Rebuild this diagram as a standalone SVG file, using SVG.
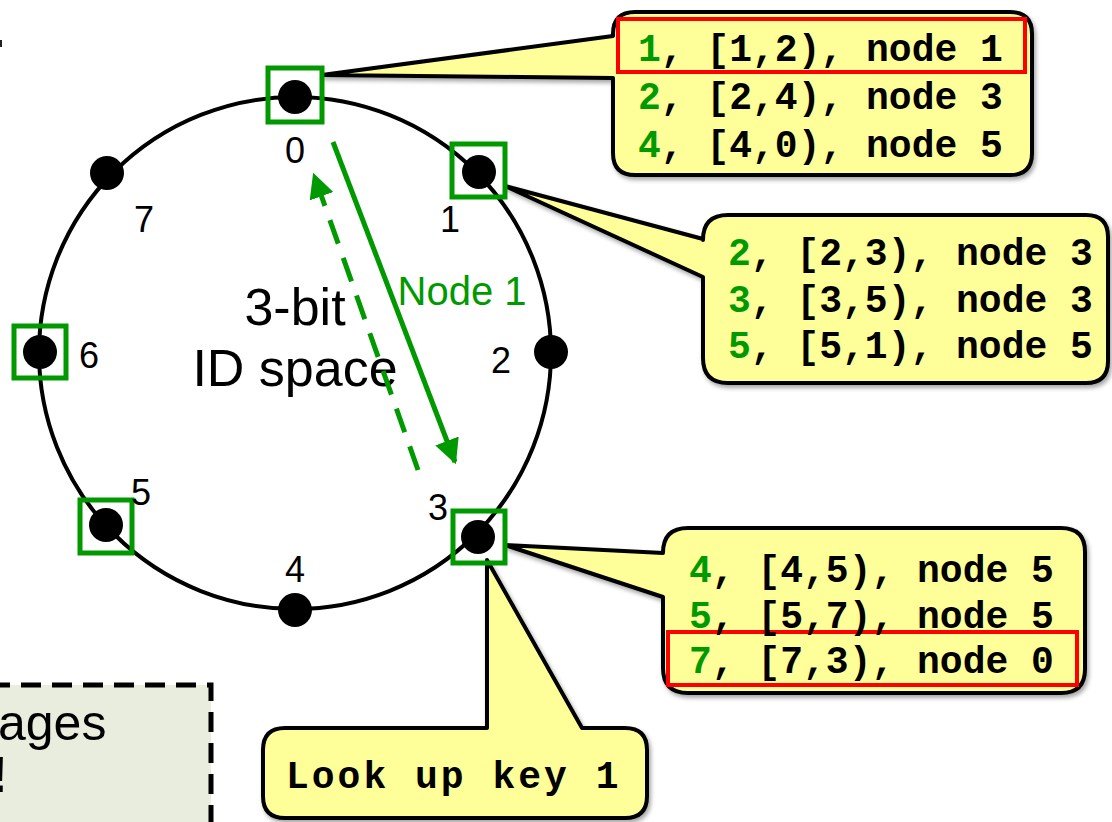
<svg xmlns="http://www.w3.org/2000/svg" width="1112" height="822" viewBox="0 0 1112 822">
<style>
.ring{fill:none;stroke:#000;stroke-width:4}
.dot{fill:#000}
.box{fill:none;stroke:#009a00;stroke-width:5}
.num{font-family:"Liberation Sans",Arial,sans-serif;font-size:36px;fill:#000;text-anchor:middle}
.big{font-family:"Liberation Sans",Arial,sans-serif;font-size:52px;fill:#000;text-anchor:middle}
.callout{fill:#ffff99;stroke:#000;stroke-width:4;stroke-linejoin:round;filter:url(#sh)}
.mono{font-family:"Liberation Mono","Courier New",monospace;font-weight:bold;font-size:38px;fill:#000}
.g{fill:#009a00}
.hl{fill:none;stroke:#ff0000;stroke-width:4}
.arrow{stroke:#009a00;stroke-width:5;fill:none}
.sans{font-family:"Liberation Sans",Arial,sans-serif}
</style>
<defs>
<filter id="sh" x="-10%" y="-10%" width="120%" height="130%">
<feDropShadow dx="2" dy="3" stdDeviation="2" flood-color="#000" flood-opacity="0.35"/>
</filter>
<marker id="ah" viewBox="0 0 10 10" refX="9" refY="5" markerWidth="5" markerHeight="5.5" orient="auto" markerUnits="strokeWidth">
<path d="M0,0 L10,5 L0,10 z" fill="#009a00"/>
</marker>
</defs>

<rect x="0" y="40" width="2" height="7" fill="#222"/>

<g id="note">
<rect x="-10" y="685" width="221" height="150" fill="#e9eddd" stroke="#000" stroke-width="5" stroke-dasharray="20,11"/>
<text class="sans" x="-2" y="740" font-size="50" fill="#000">ages</text>
<text class="sans" x="-9" y="792" font-size="50" font-weight="bold" fill="#000">!</text>
</g>

<g id="ring">
<circle class="ring" cx="295" cy="353" r="256"/>
</g>

<g id="callout-0">
<path class="callout" d="M635,12 H1010 Q1032,12 1032,34 V153 Q1032,175 1010,175 H635 Q613,175 613,153 V78 L322,75 L613,36 V34 Q613,12 635,12 Z"/>
<rect class="hl" x="618" y="19" width="407" height="53"/>
<text class="mono" x="638" y="61"><tspan class="g">1</tspan>, [1,2), node 1</text>
<text class="mono" x="638" y="109"><tspan class="g">2</tspan>, [2,4), node 3</text>
<text class="mono" x="638" y="157"><tspan class="g">4</tspan>, [4,0), node 5</text>
</g>

<g id="callout-1">
<path class="callout" d="M728,215 H1086 Q1108,215 1108,237 V361 Q1108,383 1086,383 H728 Q703,383 703,358 V277 L505,186 L703,239 V240 Q703,215 728,215 Z"/>
<text class="mono" x="728" y="265"><tspan class="g">2</tspan>, [2,3), node 3</text>
<text class="mono" x="728" y="312"><tspan class="g">3</tspan>, [3,5), node 3</text>
<text class="mono" x="728" y="358"><tspan class="g">5</tspan>, [5,1), node 5</text>
</g>

<g id="callout-3">
<path class="callout" d="M688,528 H1061 Q1085,528 1085,552 V669 Q1085,693 1061,693 H688 Q663,693 663,668 V597 L505,545 L663,553 Q663,528 688,528 Z"/>
<rect class="hl" x="668" y="632" width="409" height="53"/>
<text class="mono" x="689" y="582"><tspan class="g">4</tspan>, [4,5), node 5</text>
<text class="mono" x="689" y="628"><tspan class="g">5</tspan>, [5,7), node 5</text>
<text class="mono" x="689" y="673"><tspan class="g">7</tspan>, [7,3), node 0</text>
</g>

<g id="callout-lookup">
<path class="callout" d="M285,728 H487 V560 L582,728 H625 Q647,728 647,750 V796 Q647,818 625,818 H285 Q263,818 263,796 V750 Q263,728 285,728 Z"/>
<text class="mono" x="286" y="788" letter-spacing="3">Look up key 1</text>
</g>

<g id="n0"><circle class="dot" cx="295" cy="97" r="17"/><rect class="box" x="268" y="68" width="54" height="54"/><text class="num" x="295" y="163">0</text></g>
<g id="n1"><circle class="dot" cx="479" cy="172" r="17"/><rect class="box" x="452" y="144" width="53" height="53"/><text class="num" x="450" y="232">1</text></g>
<g id="n2"><circle class="dot" cx="551" cy="352" r="17"/><text class="num" x="501" y="373">2</text></g>
<g id="n3"><circle class="dot" cx="478" cy="537" r="17"/><rect class="box" x="453" y="511" width="52" height="52"/><text class="num" x="438" y="520">3</text></g>
<g id="n4"><circle class="dot" cx="295" cy="610" r="17"/><text class="num" x="295" y="582">4</text></g>
<g id="n5"><circle class="dot" cx="106" cy="525" r="17"/><rect class="box" x="80" y="500" width="52" height="53"/><text class="num" x="141" y="505">5</text></g>
<g id="n6"><circle class="dot" cx="40" cy="352" r="17"/><rect class="box" x="14" y="326" width="52" height="52"/><text class="num" x="89" y="368">6</text></g>
<g id="n7"><circle class="dot" cx="107" cy="173" r="17"/><text class="num" x="144" y="232">7</text></g>

<g id="label">
<text class="big" x="295" y="325">3-bit</text>
<text class="big" x="295" y="386">ID space</text>
</g>

<g id="connectors">
<path class="arrow" d="M333,142 L455,462" marker-end="url(#ah)"/>
<path class="arrow" d="M418,470 L314,175" stroke-dasharray="25,15" marker-end="url(#ah)"/>
<text class="sans" x="462" y="305" font-size="40" fill="#009a00" text-anchor="middle">Node 1</text>
</g>
</svg>
